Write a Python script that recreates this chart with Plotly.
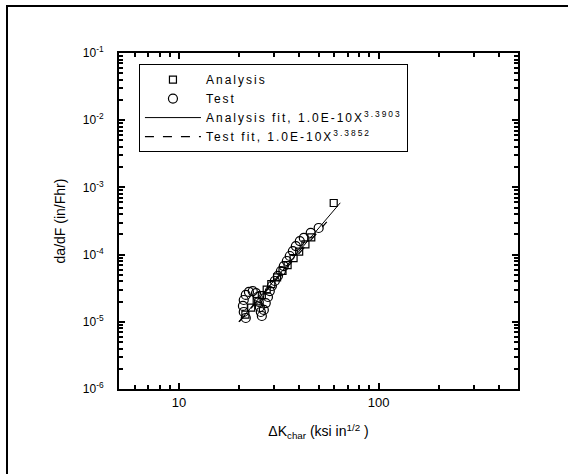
import plotly.graph_objects as go

# ---- data ----
analysis_k = [21.5, 23.0, 24.5, 26.0, 27.5, 29.0, 31.0, 33.0, 35.0, 37.5, 40.0, 43.0, 46.0, 59.6]
analysis_v = [1.28e-5, 1.63e-5, 2.02e-5, 2.49e-5, 3.02e-5, 3.63e-5, 4.57e-5, 5.71e-5,
              6.98e-5, 8.87e-5, 1.11e-4, 1.42e-4, 1.81e-4, 5.86e-4]

test_k = [21.6, 21.1, 20.9, 21.1, 21.6, 22.4, 23.4, 24.3, 24.8, 25.1, 25.4, 25.7, 26.0,
          26.6, 27.2, 27.9, 28.5, 29.2, 30.2, 31.3, 32.4, 33.5, 34.7, 35.9, 37.2, 38.5,
          40.3, 42.2, 45.7, 50.1]
test_v = [1.14e-5, 1.40e-5, 1.72e-5, 2.11e-5, 2.51e-5, 2.78e-5, 2.87e-5, 2.68e-5, 2.34e-5,
          1.97e-5, 1.66e-5, 1.40e-5, 1.22e-5,
          1.50e-5, 1.90e-5, 2.34e-5, 2.87e-5, 3.41e-5, 4.05e-5, 4.81e-5, 5.70e-5, 6.76e-5,
          8.03e-5, 9.53e-5, 1.13e-4, 1.34e-4, 1.59e-4, 1.77e-4, 2.10e-4, 2.49e-4]

analysis_fit_k = [19.95, 64.3]
analysis_fit_v = [1.0e-5, 5.9e-4]
test_fit_k = [20.0, 55.0]
test_fit_v = [1.0e-5, 3.07e-4]

y_tickvals = [1e-6, 1e-5, 1e-4, 1e-3, 1e-2, 1e-1]
y_ticktext = ["10<sup>-6</sup>", "10<sup>-5</sup>", "10<sup>-4</sup>",
              "10<sup>-3</sup>", "10<sup>-2</sup>", "10<sup>-1</sup>"]
x_tickvals = [10, 100]
x_ticktext = ["10", "100"]
x_minor = [6, 7, 8, 9, 20, 30, 40, 50, 60, 70, 80, 90, 200, 300, 400]
y_minor = [m * 10.0 ** e for e in range(-6, -1) for m in range(2, 10)]

legend_names = ["Analysis", "Test",
                "Analysis fit, 1.0E-10X<sup>3.3903</sup>",
                "Test fit, 1.0E-10X<sup>3.3852</sup>"]

FONT = "Liberation Sans, Arial, sans-serif"


def spaced(t):
    return '<span style="letter-spacing:2px">' + t + "</span>"


fig = go.Figure()
fig.add_trace(go.Scatter(
    x=analysis_k, y=analysis_v, mode="markers", name=spaced(legend_names[0]),
    marker=dict(symbol="square-open", size=7, color="black", line=dict(width=1.2))))
fig.add_trace(go.Scatter(
    x=test_k, y=test_v, mode="markers", name=spaced(legend_names[1]),
    marker=dict(symbol="circle-open", size=9, color="black", line=dict(width=1.2))))
fig.add_trace(go.Scatter(
    x=analysis_fit_k, y=analysis_fit_v, mode="lines", name=spaced(legend_names[2]),
    line=dict(color="black", width=1)))
fig.add_trace(go.Scatter(
    x=test_fit_k, y=test_fit_v, mode="lines", name=spaced(legend_names[3]),
    line=dict(color="black", width=1.3, dash="dash")))

axis_common = dict(
    showgrid=False, zeroline=False, showline=True, linecolor="black", linewidth=2,
    mirror="allticks", ticks="inside", ticklen=6, tickwidth=1.5, tickcolor="black",
)

fig.update_xaxes(
    type="log", range=[0.69897, 2.69897],
    tickvals=x_tickvals, ticktext=x_ticktext,
    minor=dict(tickmode="array", tickvals=x_minor, ticks="inside", ticklen=4,
               tickwidth=1.5, tickcolor="black", showgrid=False),
    tickfont=dict(family=FONT, size=13, color="black"),
    title=dict(text="ΔK<sub>char</sub> (ksi in<sup>1/2</sup> )",
               font=dict(family=FONT, size=14, color="black"), standoff=18),
    **axis_common)
fig.update_yaxes(
    type="log", range=[-6, -1],
    tickvals=y_tickvals, ticktext=y_ticktext,
    minor=dict(tickmode="array", tickvals=y_minor, ticks="inside", ticklen=4,
               tickwidth=1.5, tickcolor="black", showgrid=False),
    tickfont=dict(family=FONT, size=12, color="black"),
    ticklabelstandoff=11,
    title=dict(text="da/dF (in/Fhr)",
               font=dict(family=FONT, size=14, color="black"), standoff=14),
    **axis_common)

fig.update_layout(
    width=568, height=474,
    margin=dict(l=119, r=50, t=53, b=85, autoexpand=False),
    paper_bgcolor="white", plot_bgcolor="white",
    font=dict(family=FONT, color="black"),
    legend=dict(
        x=0.05, y=0.967, xanchor="left", yanchor="top",
        bordercolor="black", borderwidth=1, bgcolor="white",
        font=dict(family=FONT, size=12, color="black"),
        tracegroupgap=0, itemwidth=56),
    showlegend=True,
    shapes=[dict(type="path", xref="paper", yref="paper",
                 path="M -0.2807,-0.26 L -0.2807,1.14 L 1.13,1.14",
                 line=dict(color="black", width=2))],
)

fig.write_html("out.html", config={"displayModeBar": False},
               post_script="document.body.style.margin='0';")
